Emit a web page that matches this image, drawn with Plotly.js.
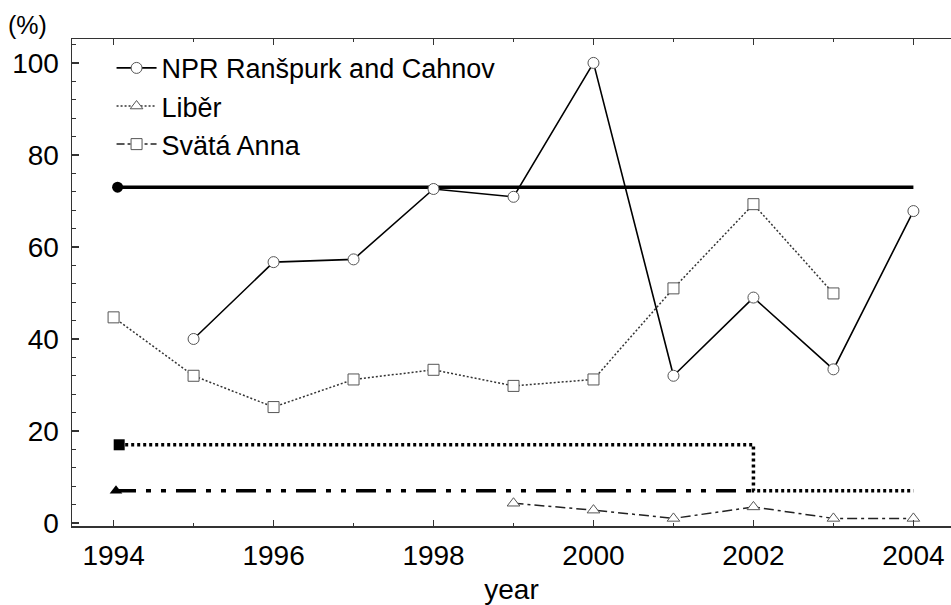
<!DOCTYPE html>
<html>
<head>
<meta charset="utf-8">
<script src="https://cdn.plot.ly/plotly-3.0.1.min.js"></script>
<style>html,body{margin:0;padding:0;background:#fff;}#chart{width:951px;height:605px;}</style>
</head>
<body>
<div id="chart"></div>
<script>
// ---- data ----
const years = [1994, 1995, 1996, 1997, 1998, 1999, 2000, 2001, 2002, 2003, 2004];
const nprRanspurk = [null, 40.0, 56.7, 57.3, 72.6, 70.9, 100.0, 32.0, 49.0, 33.4, 67.8];
const svataAnna   = [44.7, 32.0, 25.2, 31.2, 33.3, 29.8, 31.2, 51.0, 69.3, 49.9, null];
const liber       = [null, null, null, null, null, 4.3, 2.8, 1.0, 3.5, 1.0, 1.0];

// reference levels (thick lines with filled start markers)
const nprRefX = [1994.05, 2004];
const nprRefY = [73, 73];
const annaRefX = [1994.07, 2002, 2002, 2004];
const annaRefY = [17, 17, 7, 7];
const liberRefX = [1994.03, 2002];
const liberRefY = [7, 7];

const seriesNames = ['NPR Ranšpurk and Cahnov', 'Liběr', 'Svätá Anna'];
const evenYears = [1994, 1996, 1998, 2000, 2002, 2004];
const oddYears = [1995, 1997, 1999, 2001, 2003];
const yTicks = [0, 20, 40, 60, 80, 100];
const yMinorTicks = [4, 8, 12, 16, 24, 28, 32, 36, 44, 48, 52, 56, 64, 68, 72, 76, 84, 88, 92, 96, 104];

const openMarker = (sym) => ({symbol: sym, size: 11, color: '#fff', line: {color: '#555', width: 1}});

const traces = [
  // thick reference lines
  {x: nprRefX, y: nprRefY, mode: 'lines', line: {color: '#000', width: 3.5}, showlegend: false, hoverinfo: 'skip'},
  {x: [nprRefX[0]], y: [nprRefY[0]], mode: 'markers', marker: {symbol: 'circle', size: 11, color: '#000'}, showlegend: false},
  {x: annaRefX, y: annaRefY, mode: 'lines', line: {color: '#000', width: 3.5, dash: '3px,3px'}, showlegend: false, hoverinfo: 'skip'},
  {x: [annaRefX[0]], y: [annaRefY[0]], mode: 'markers', marker: {symbol: 'square', size: 11, color: '#000'}, showlegend: false},
  {x: liberRefX, y: liberRefY, mode: 'lines', line: {color: '#000', width: 3.5, dash: '20px,10px,5px,10px,5px,10px'}, showlegend: false, hoverinfo: 'skip'},
  {x: [liberRefX[0]], y: [liberRefY[0]], mode: 'markers', marker: {symbol: 'triangle-up', size: 11, color: '#000'}, showlegend: false},

  // data series
  {x: years, y: svataAnna, mode: 'lines+markers', connectgaps: false,
   line: {color: '#333', width: 1.5, dash: '2px,2px'}, marker: openMarker('square'), showlegend: false},
  {x: years, y: liber, mode: 'lines+markers', connectgaps: false,
   line: {color: '#222', width: 1.5, dash: '10px,4px,3px,4px'}, marker: openMarker('triangle-up'), showlegend: false},
  {x: years, y: nprRanspurk, mode: 'lines+markers', connectgaps: false,
   line: {color: '#000', width: 1.6}, marker: openMarker('circle'), showlegend: false},

  // legend entries (as drawn in the reference legend)
  {x: [null], y: [null], name: seriesNames[0], mode: 'lines+markers',
   line: {color: '#000', width: 1.6}, marker: openMarker('circle')},
  {x: [null], y: [null], name: seriesNames[1], mode: 'lines+markers',
   line: {color: '#333', width: 1.5, dash: '2px,2px'}, marker: openMarker('triangle-up')},
  {x: [null], y: [null], name: seriesNames[2], mode: 'lines+markers',
   line: {color: '#222', width: 1.5, dash: '8px,3px,3px,3px'}, marker: openMarker('square')}
];

const axisColor = '#333';
const layout = {
  width: 951, height: 605,
  margin: {l: 72, r: 0, t: 39, b: 79, pad: 0},
  paper_bgcolor: '#fff', plot_bgcolor: '#fff',
  font: {family: 'Liberation Sans, Arial, sans-serif', size: 28, color: '#000'},
  showlegend: true,
  legend: {x: 0.045, y: 0.99, xanchor: 'left', yanchor: 'top', bgcolor: 'rgba(0,0,0,0)',
           font: {size: 27, color: '#000'}, tracegroupgap: 0, itemwidth: 40},
  xaxis: {
    range: [1993.48, 2004.47], tickvals: evenYears, ticktext: evenYears.map(String),
    ticks: 'inside', ticklen: 6, tickwidth: 1.5, tickcolor: axisColor,
    showline: true, linecolor: axisColor, linewidth: 1.5, mirror: 'ticks',
    showgrid: false, zeroline: false,
    minor: {tickvals: oddYears, ticks: 'inside', ticklen: 3, tickwidth: 1.2, tickcolor: axisColor, showgrid: false},
    tickfont: {size: 28}, ticklabelstandoff: 4,
    title: {text: 'year', font: {size: 28}, standoff: 25}
  },
  yaxis: {
    range: [-0.65, 105.2], tickvals: yTicks, ticktext: yTicks.map(String),
    ticks: 'inside', ticklen: 7, tickwidth: 1.5, tickcolor: axisColor,
    showline: true, linecolor: axisColor, linewidth: 1.5,
    showgrid: false, zeroline: false,
    minor: {tickvals: yMinorTicks, ticks: 'inside', ticklen: 4, tickwidth: 1.2, tickcolor: axisColor, showgrid: false},
    tickfont: {size: 28}, ticklabelstandoff: 6
  },
  annotations: [
    {text: '(%)', xref: 'paper', yref: 'paper', x: -0.051, y: 1.028, xanchor: 'center', yanchor: 'middle',
     showarrow: false, font: {size: 25, color: '#000'}}
  ]
};

Plotly.newPlot('chart', traces, layout, {displayModeBar: false, staticPlot: true});
</script>
</body>
</html>
